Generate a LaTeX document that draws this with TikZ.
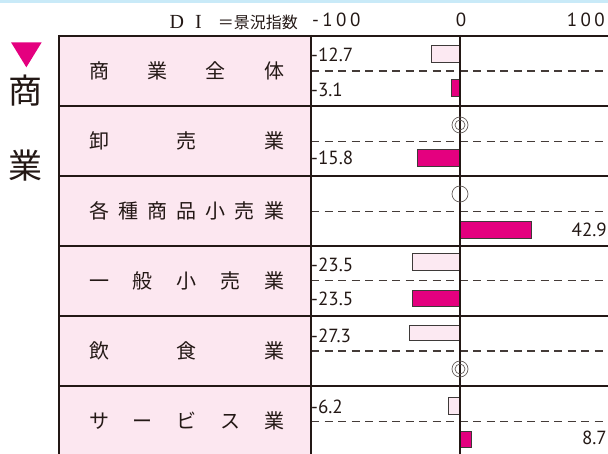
\documentclass[tikz,border=0pt]{standalone}
\usepackage{fontspec}
\setmainfont{PT Sans}
\newfontfamily\cjk{Noto Sans CJK JP}
\newfontfamily\serifl{Liberation Serif}
\newfontfamily\numsp{PT Sans}[LetterSpace=18]
\definecolor{mag}{HTML}{E4007F}
\definecolor{rowpink}{HTML}{FCE7F0}
\definecolor{barpink}{HTML}{FCE9F2}
\definecolor{topblue}{HTML}{C9EAF8}
\definecolor{ink}{HTML}{231815}
\definecolor{barline}{HTML}{3E3A39}
\tikzset{
  rowline/.style={draw=ink, line width=2.2pt},
  axisline/.style={draw=ink, line width=2.2pt},
  halfline/.style={draw=ink!85, line width=1.1pt, dash pattern=on 8pt off 5.5pt},
  darkbar/.style={fill=mag, draw=barline, line width=0.9pt},
  lightbar/.style={fill=barpink, draw=barline, line width=0.9pt},
  rowlabel/.style={inner sep=0pt, font=\cjk\fontsize{20}{20}\selectfont, text=ink},
  vallabel/.style={inner sep=0pt, font=\fontsize{19}{19}\selectfont, text=ink},
  scalelabel/.style={inner sep=0pt, font=\numsp\fontsize{19}{19}\selectfont, text=ink},
  mark circle/.style={circle, draw=ink!70, line width=0.7pt, inner sep=0pt},
}
\newcommand{\spreadtext}[1]{\makebox[195pt][s]{#1}}
\begin{document}
\begin{tikzpicture}[x=1pt,y=-1pt]
\useasboundingbox (0,0) rectangle (608,454);
% top band
\fill[topblue] (0,0) rectangle (608,3);
% label column background
\fill[rowpink] (59,36) rectangle (311,454);
% bars
\draw[lightbar] (431.7,45) rectangle (460,62);
\draw[darkbar] (451,79.3) rectangle (460,96.7);
\draw[darkbar] (417,149) rectangle (460,166);
\draw[darkbar] (460,221) rectangle (531.7,238.3);
\draw[lightbar] (412,253.3) rectangle (460,270);
\draw[darkbar] (412,290.7) rectangle (460,306);
\draw[lightbar] (409,325) rectangle (460,340.7);
\draw[lightbar] (448.7,397.3) rectangle (460,414.3);
\draw[darkbar] (460,431) rectangle (471.3,447.7);
% half lines
\foreach \y in {71,141.7,211.7,280.5,351,421.7}
  \draw[halfline] (311,\y) -- (608,\y);
% row lines
\foreach \y in {36,106,176,246,316,386}
  \draw[rowline] (58,\y) -- (608,\y);
\draw[rowline] (59,35) -- (59,454);
\draw[rowline] (311,35) -- (311,454);
\draw[axisline] (460,35) -- (460,454);
% marks
\node[mark circle, minimum size=16pt] (m1o) at (460,125) {};
\node[mark circle, minimum size=10pt] (m1i) at (460,125) {};
\node[mark circle, minimum size=16pt] (m2) at (460,194) {};
\node[mark circle, minimum size=16pt] (m3o) at (460,369) {};
\node[mark circle, minimum size=10pt] (m3i) at (460,369) {};
% header
\node[anchor=east, inner sep=0pt, text=ink] (dilabel) at (298,22)
  {\serifl\fontsize{20}{20}\selectfont D\hspace{11pt}I\hspace{16pt}\cjk\fontsize{16}{16}\selectfont ＝景況指数};
\node[scalelabel, anchor=west] (sm100) at (312,20) {-100};
\node[scalelabel] (s0) at (461,20) {0};
\node[scalelabel, anchor=east] (s100) at (605,20) {100};
% left title
\fill[mag] (11,42.3) -- (41.7,42.3) -- (26.35,67.3) -- cycle;
\node[inner sep=0pt, font=\cjk\fontsize{34}{34}\selectfont, text=ink] (t1) at (26,91) {商};
\node[inner sep=0pt, font=\cjk\fontsize{34}{34}\selectfont, text=ink] (t2) at (26,166) {業};
% row labels
\node[rowlabel] (r1) at (186.5,71) {\spreadtext{商\hfill 業\hfill 全\hfill 体}};
\node[rowlabel] (r2) at (186.5,141) {\spreadtext{卸\hfill 売\hfill 業}};
\node[rowlabel] (r3) at (186.5,211) {\spreadtext{各\hfill 種\hfill 商\hfill 品\hfill 小\hfill 売\hfill 業}};
\node[rowlabel] (r4) at (186.5,281) {\spreadtext{一\hfill 般\hfill 小\hfill 売\hfill 業}};
\node[rowlabel] (r5) at (186.5,351) {\spreadtext{飲\hfill 食\hfill 業}};
\node[rowlabel] (r6) at (186.5,421) {\spreadtext{サ\hfill ー\hfill ビ\hfill ス\hfill 業}};
% values
\node[vallabel, anchor=west] (v1) at (311,55) {-12.7};
\node[vallabel, anchor=west] (v2) at (311,90) {-3.1};
\node[vallabel, anchor=west] (v3) at (311,158) {-15.8};
\node[vallabel, anchor=east] (v4) at (607,230) {42.9};
\node[vallabel, anchor=west] (v5) at (311,265) {-23.5};
\node[vallabel, anchor=west] (v6) at (311,299) {-23.5};
\node[vallabel, anchor=west] (v7) at (311,336) {-27.3};
\node[vallabel, anchor=west] (v8) at (311,407) {-6.2};
\node[vallabel, anchor=east] (v9) at (607,438) {8.7};
\end{tikzpicture}
\end{document}
